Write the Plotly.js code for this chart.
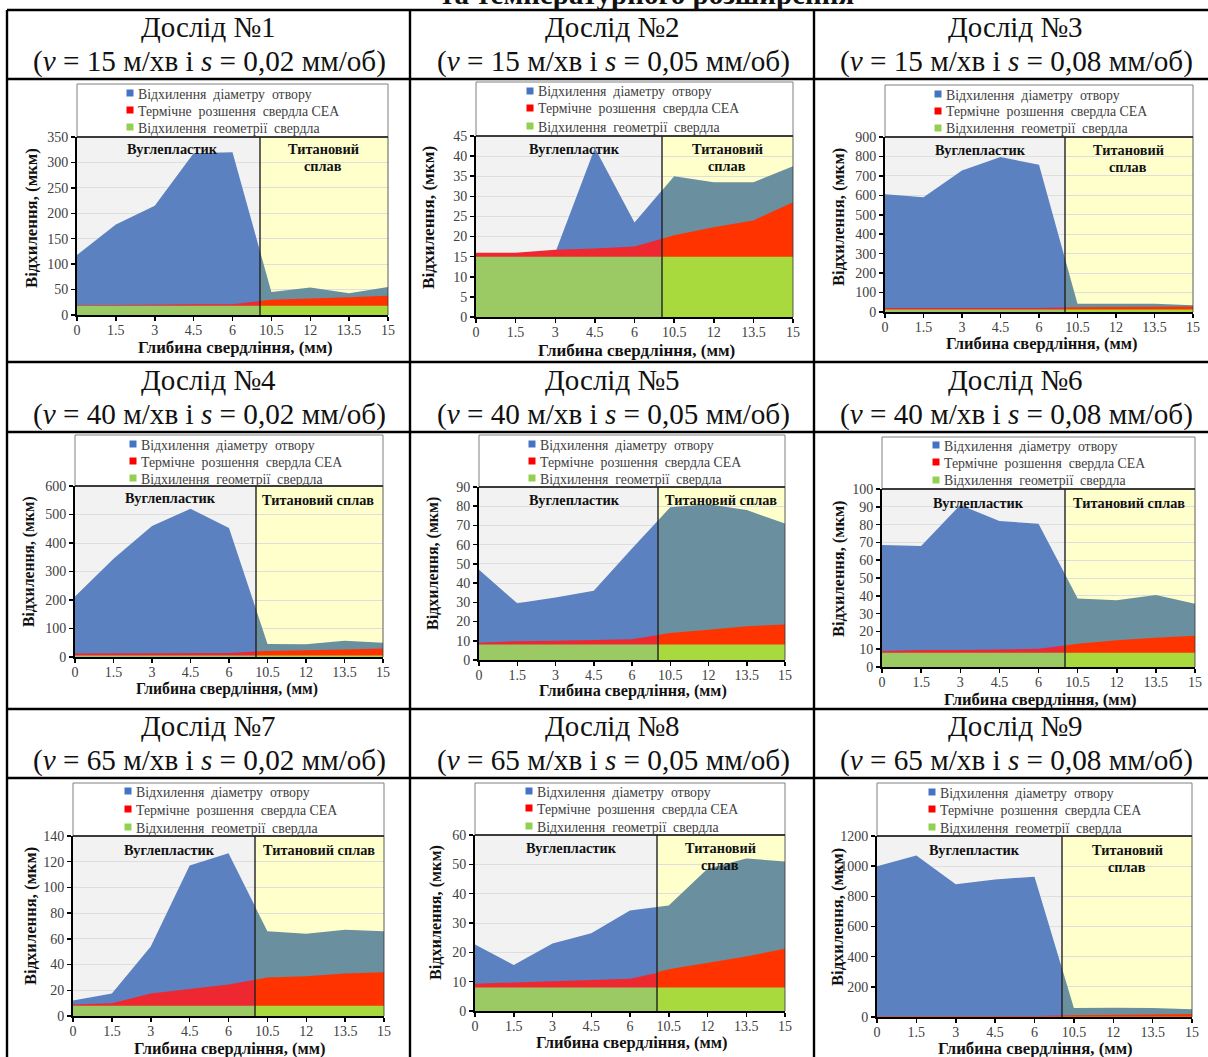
<!DOCTYPE html>
<html><head><meta charset="utf-8">
<script src="https://cdn.plot.ly/plotly-3.0.1.min.js"></script>
<style>html,body{margin:0;padding:0;background:#fff;overflow:hidden}</style>
</head><body><div id="chart" style="width:1208px;height:1057px"></div>
<script>
// ---------- data ----------
const depthLabels = ['0','1.5','3','4.5','6','10.5','12','13.5','15'];
const seriesNames = ['Відхилення діаметру отвору','Термічне розшення свердла СЕА','Відхилення геометрії свердла'];

const diameter1 = [118,178,215,318,320,45,54,43,55];
const thermal1  = [19,19,20,21,21,30,32,35,38];
const geometry1 = [18,18,18,18,18,18,18,18,18];

const diameter2 = [14,15,16,42,23.5,35,33.5,33.5,37.5];
const thermal2  = [16,16,16.7,17,17.5,20.3,22.3,24,28.5];
const geometry2 = [15,15,15,15,15,15,15,15,15];

const diameter3 = [605,590,728,797,757,42,42,42,35];
const thermal3  = [20,20,20,20,20,24,26,28,28];
const geometry3 = [13,13,13,13,13,13,13,13,13];

const diameter4 = [212,345,460,520,453,46,45,57,50];
const thermal4  = [12,12,12,13,14,21,23,26,30];
const geometry4 = [5,5,5,5,5,5,5,5,5];

const diameter5 = [47,29.5,32.5,36,58,79.5,81,78,71];
const thermal5  = [9,9.8,10,10.5,10.8,14,15.8,17.5,18.5];
const geometry5 = [8,8,8,8,8,8,8,8,8];

const diameter6 = [68.5,68,91,82,80.5,38.5,37.5,40.5,35.5];
const thermal6  = [9,9.5,9.5,10,10.2,13,15,16.5,17.5];
const geometry6 = [8,8,8,8,8,8,8,8,8];

const diameter7 = [12,17.5,54,117,126.5,66,64,67,66];
const thermal7  = [9,10,17.5,21,24.5,30,31,33,34];
const geometry7 = [8,8,8,8,8,8,8,8,8];

const diameter8 = [22.7,15.7,23,26.5,34.3,36,48.5,52,51];
const thermal8  = [9.3,9.8,10.2,10.6,11,14.2,16.5,18.6,21.2];
const geometry8 = [8,8,8,8,8,8,8,8,8];

const diameter9 = [1000,1070,880,912,930,60,62,60,52];
const thermal9  = [5,5,5,5,6,12,13,16,20];
const geometry9 = [2,2,2,2,2,2,2,2,2];

const yMax  = [350,45,900,600,90,100,140,60,1200];
const yStep = [50,5,100,100,10,10,20,10,200];
const speeds = ['15','15','15','40','40','40','65','65','65'];
const feeds  = ['0,02','0,05','0,08','0,02','0,05','0,08','0,02','0,05','0,08'];

// ---------- layout (pixels) ----------
const W = 1208, H = 1057;
const px = x => x / W, py = y => 1 - y / H;
// x0,xb,x1 plot left/boundary/right; yt,yb plot top/bottom; lt legend top; mx legend marker x; ly legend row y
// xt x-title centre, xs its font size; yl y-title centre, ys its font size; lab region-label positions
const boxes = [
 {x0:77, xb:260, x1:388, yt:137,yb:315, lt:84, mx:127, ly:[94,111,128], xt:[235,347], xs:16.8,yl:[31,218], ys:16.8,lab:[172,150,323,150,2]},
 {x0:476,xb:662, x1:793, yt:136,yb:317, lt:82, mx:527, ly:[92,109,127], xt:[636,350], xs:17,  yl:[428,218],ys:17.2,lab:[574,149,727,149,2]},
 {x0:885,xb:1065,x1:1193,yt:137,yb:312, lt:85, mx:935, ly:[95,112,129], xt:[1041,343],xs:16.5,yl:[839,217],ys:16.6,lab:[980,151,1128,151,2]},
 {x0:75, xb:256, x1:383, yt:486,yb:657, lt:435,mx:130, ly:[445,462,479],xt:[227,688.5],xs:15.7,yl:[29,562], ys:15.7,lab:[170,499,318,500,1]},
 {x0:479,xb:658, x1:785, yt:487,yb:660, lt:435,mx:529, ly:[445,462,479],xt:[633,691], xs:16.2,yl:[433,564],ys:16,  lab:[574,500,721,500,1]},
 {x0:882,xb:1065,x1:1195,yt:489,yb:667, lt:437,mx:933, ly:[446,463,481],xt:[1040,699],xs:16.6,yl:[838,569],ys:16.4,lab:[979,503,1129,503,1]},
 {x0:73, xb:255, x1:384, yt:836,yb:1016,lt:783,mx:125, ly:[792,810,828],xt:[229,1048],xs:16.5,yl:[30,916], ys:16.6,lab:[169,850,319,850,1]},
 {x0:475,xb:657, x1:785, yt:835,yb:1011,lt:783,mx:526, ly:[792,809,827],xt:[631,1042],xs:16.5,yl:[436,913],ys:16.2,lab:[571,848,720,848,2]},
 {x0:877,xb:1062,x1:1192,yt:836,yb:1017,lt:783,mx:929, ly:[793,810,828],xt:[1035,1048],xs:16.8,yl:[837,917],ys:16.6,lab:[974,850,1127,850,2]}
];
const titleCenters = [209,613,1016];
const titleRows = [[27,61],[380,415],[726,760]];
const legendTexts = ['Відхилення\u00a0 діаметру\u00a0 отвору','Термічне\u00a0 розшення\u00a0 свердла\u00a0СЕА','Відхилення\u00a0 геометрії\u00a0 свердла'];
const legendColors = ['#4472c4','#ff0000','#92d050'];
const leftColors = ['#5b81c1','#ee2830','#9bca65'];
const rightColors = ['#6a8f9f','#ff3300','#a8d93d'];
const SERIF = '"Liberation Serif", serif';
const positions = depthLabels.map((_, i) => i);
const panelData = [
 [diameter1,thermal1,geometry1],[diameter2,thermal2,geometry2],[diameter3,thermal3,geometry3],
 [diameter4,thermal4,geometry4],[diameter5,thermal5,geometry5],[diameter6,thermal6,geometry6],
 [diameter7,thermal7,geometry7],[diameter8,thermal8,geometry8],[diameter9,thermal9,geometry9]
];

const traces = [];
const layout = {width:W,height:H,margin:{l:0,r:0,t:0,b:0,pad:0},paper_bgcolor:'#fff',plot_bgcolor:'rgba(0,0,0,0)',
  showlegend:false,shapes:[],annotations:[],font:{family:SERIF,color:'#404040',size:13}};

function text(x,y,t,size,opts){
  layout.annotations.push(Object.assign({xref:'paper',yref:'paper',x:px(x),y:py(y),text:t,showarrow:false,
    xanchor:'center',yanchor:'middle',font:{family:SERIF,size:size,color:'#111'},borderpad:0},opts||{}));
}
function rect(x0,y0,x1,y1,fill,layer,line){
  layout.shapes.push({type:'rect',xref:'paper',yref:'paper',x0:px(x0),x1:px(x1),y0:py(y1),y1:py(y0),
    fillcolor:fill,line:line||{width:0},layer:layer||'below'});
}
function seg(x0,y0,x1,y1,color,w){
  layout.shapes.push({type:'line',xref:'paper',yref:'paper',x0:px(x0),x1:px(x1),y0:py(y0),y1:py(y1),
    line:{color:color,width:w},layer:'above'});
}

boxes.forEach((b,i)=>{
  const xa = 'x'+(2*i+1), xb = 'x'+(2*i+2), ya = 'y'+(i+1);
  const split = (b.xb-b.x0)/(b.x1-b.x0)*(positions.length-1);
  const common = {showgrid:false,zeroline:false,showline:true,linecolor:'#000',linewidth:2,ticks:'outside',ticklen:4,tickwidth:1.5,
    tickcolor:'#000',tickfont:{family:SERIF,size:14,color:'#404040'},tickmode:'array',fixedrange:true};
  layout['xaxis'+(2*i+1)] = Object.assign({},common,{domain:[px(b.x0),px(b.xb)],range:[0,split],anchor:ya,ticklabelstandoff:-3,
     tickvals:positions.slice(0,5),ticktext:depthLabels.slice(0,5)});
  layout['xaxis'+(2*i+2)] = Object.assign({},common,{domain:[px(b.xb),px(b.x1)],range:[split,positions.length-1],anchor:ya,ticklabelstandoff:-3,
     tickvals:positions.slice(5),ticktext:depthLabels.slice(5)});
  const yv=[]; for(let v=0;v<=yMax[i];v+=yStep[i]) yv.push(v);
  layout['yaxis'+(i+1)] = Object.assign({},common,{domain:[py(b.yb),py(b.yt)],range:[0,yMax[i]],anchor:xa,
     tickvals:yv,ticktext:yv.map(String),showgrid:true,gridcolor:'#dedede',gridwidth:1});

  [[xa,leftColors],[xb,rightColors]].forEach(([ax,cols])=>{
    panelData[i].forEach((vals,k)=>{
      traces.push({type:'scatter',mode:'lines',x:positions,y:vals,xaxis:ax,yaxis:ya,name:seriesNames[k],
        fill:'tozeroy',fillcolor:cols[k],line:{width:0},hoverinfo:'skip',showlegend:false});
    });
  });

  // backgrounds, legend frame
  rect(b.x0,b.yt,b.xb,b.yb,'#f2f2f2');
  rect(b.xb,b.yt,b.x1,b.yb,'#ffffcc');
  rect(b.x0,b.lt,b.x1,b.yt,'#fff','below',{color:'#808080',width:1});
  seg(b.x0,b.yt,b.x1,b.yt,'#111',1.6);
  seg(b.xb,b.yt,b.xb,b.yb,'#222',1.4);
  seg(b.x1,b.yt,b.x1,b.yb,'#333',0.8);

  // legend
  b.ly.forEach((y,k)=>{
    rect(b.mx-0.5,y-4.5,b.mx+6.5,y+2.5,legendColors[k],'above');
    text(b.mx+10,y,legendTexts[k],13.8,{xanchor:'left',font:{family:SERIF,size:13.8,color:'#404040'}});
  });

  // region labels
  text(b.lab[0],b.lab[1]-0.5,'<b>Вуглепластик</b>',14.3);
  if(b.lab[4]===1) text(b.lab[2],b.lab[3]-0.5,'<b>Титановий сплав</b>',14.3);
  else { text(b.lab[2],b.lab[3]-0.5,'<b>Титановий</b>',14.3); text(b.lab[2],b.lab[3]+16.5,'<b>сплав</b>',14.3); }

  // axis titles
  text(b.xt[0],b.xt[1],'<b>Глибина свердління, (мм)</b>',b.xs);
  text(b.yl[0],b.yl[1],'<b>Відхилення, (мкм)</b>',b.ys,{textangle:-90});

  // cell titles
  const c = titleCenters[i%3], r = titleRows[Math.floor(i/3)];
  text(c-1,r[0],'Дослід №'+(i+1),29);
  text(c,r[1],'(<i>v</i> = '+speeds[i]+' м/хв і <i>s</i> = '+feeds[i]+' мм/об)',29.2);
});

// table rules
[10,79,362,432,709,778].forEach(y=>seg(7,y,W,y,'#000',2.4));
[7,410,814].forEach(x=>seg(x,10,x,H,'#000',2.4));
text(646.5,-6,'<b>та температурного розширення</b>',29);

Plotly.newPlot('chart',traces,layout,{staticPlot:true,displayModeBar:false});
</script></body></html>
